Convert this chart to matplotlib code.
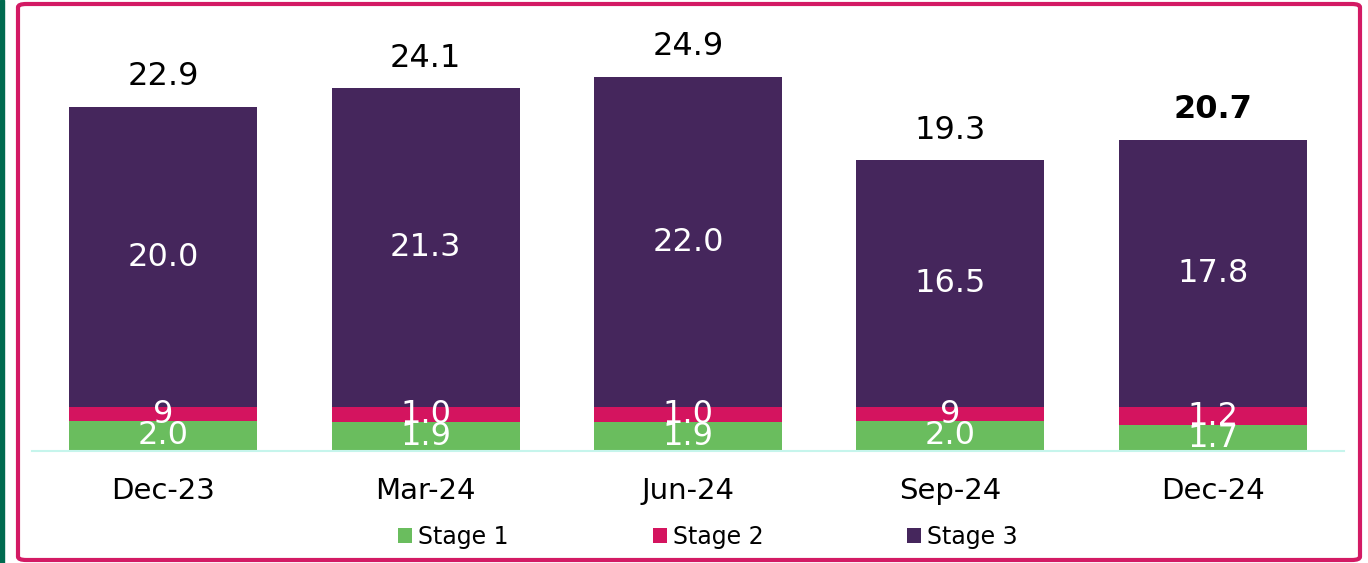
import matplotlib.pyplot as plt
from matplotlib.patches import FancyBboxPatch, Rectangle

plt.rcParams['font.family'] = ['DejaVu Sans']

# data
quarters = ['Dec-23', 'Mar-24', 'Jun-24', 'Sep-24', 'Dec-24']
stage1 = [2.0, 1.9, 1.9, 2.0, 1.7]
stage2 = [0.9, 1.0, 1.0, 0.9, 1.2]
stage3 = [20.0, 21.3, 22.0, 16.5, 17.8]
totals = [22.9, 24.1, 24.9, 19.3, 20.7]
stage1_labels = ['2.0', '1.9', '1.9', '2.0', '1.7']
stage2_labels = ['9', '1.0', '1.0', '9', '1.2']
stage3_labels = ['20.0', '21.3', '22.0', '16.5', '17.8']

c1, c2, c3 = '#6abd5e', '#d4145f', '#45265c'

fig = plt.figure(figsize=(13.68, 5.63), dpi=100)

# frame decorations
fig.patches.append(Rectangle((0, 0), 4 / 1368, 1, transform=fig.transFigure,
                             color='#006b4f', zorder=0))
fig.patches.append(FancyBboxPatch((18 / 1368, 3 / 563), 1342 / 1368, 556 / 563,
                                  boxstyle='round,pad=0,rounding_size=0.006',
                                  transform=fig.transFigure, fill=False,
                                  edgecolor='#d31a64', linewidth=3, zorder=0))

ax = fig.add_axes([32 / 1368, 112 / 563, 1312 / 1368, 425 / 563])
x = range(len(quarters))
w = 0.716
b2 = [a for a in stage1]
b3 = [a + b for a, b in zip(stage1, stage2)]
ax.bar(x, stage1, w, color=c1, label='Stage 1')
ax.bar(x, stage2, w, bottom=b2, color=c2, label='Stage 2')
ax.bar(x, stage3, w, bottom=b3, color=c3, label='Stage 3')

fs = 23
for i in x:
    ax.text(i, stage1[i] / 2, stage1_labels[i], ha='center', va='center',
            color='white', fontsize=fs)
    ax.text(i, b2[i] + stage2[i] / 2, stage2_labels[i], ha='center', va='center',
            color='white', fontsize=fs)
    ax.text(i, b3[i] + stage3[i] / 2, stage3_labels[i], ha='center', va='center',
            color='white', fontsize=fs)
    ax.text(i, totals[i] + 1.05, f'{totals[i]:.1f}', ha='center', va='bottom',
            color='black', fontsize=fs,
            fontweight='bold' if i == len(quarters) - 1 else 'normal')

ax.set_xlim(-0.5, len(quarters) - 0.5)
ax.set_ylim(0, 28.33)
ax.set_xticks(list(x))
ax.set_xticklabels(quarters, fontsize=21)
ax.tick_params(axis='x', length=0, pad=19)
ax.set_yticks([])
for s in ['top', 'left', 'right']:
    ax.spines[s].set_visible(False)
ax.spines['bottom'].set_color('#c6f5ec')
ax.spines['bottom'].set_linewidth(1.5)
ax.patch.set_alpha(0)

fig.legend(loc='center', bbox_to_anchor=(708 / 1368, 26 / 563), ncol=3,
           frameon=False, fontsize=17, handlelength=0.6, handleheight=0.6,
           handletextpad=0.25, columnspacing=6.1)

fig.savefig('out.png', dpi=100)
